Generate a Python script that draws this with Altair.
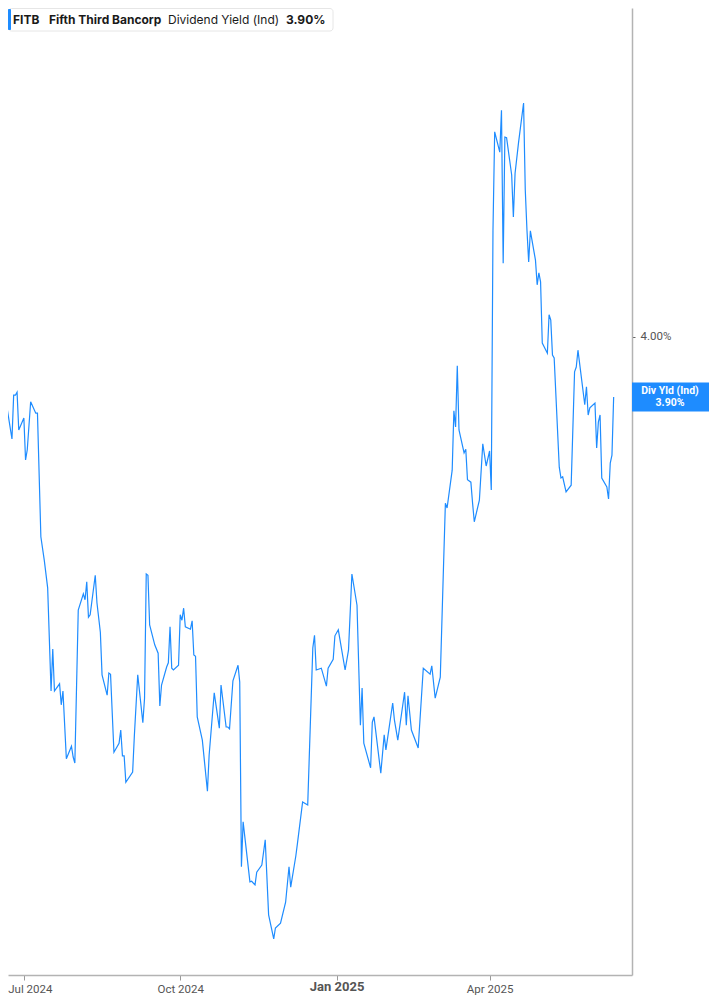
import altair as alt
import pandas as pd

# ---- data ----
dates = [
    "2024-06-17", "2024-06-18", "2024-06-20", "2024-06-24", "2024-06-25", "2024-06-26", "2024-06-27", "2024-06-28",
    "2024-07-01", "2024-07-02", "2024-07-03", "2024-07-05", "2024-07-08", "2024-07-09", "2024-07-11", "2024-07-13",
    "2024-07-15", "2024-07-17", "2024-07-18", "2024-07-19", "2024-07-22", "2024-07-23", "2024-07-24", "2024-07-26",
    "2024-07-29", "2024-07-30", "2024-07-31", "2024-08-02", "2024-08-05", "2024-08-06", "2024-08-07", "2024-08-08",
    "2024-08-09", "2024-08-12", "2024-08-13", "2024-08-15", "2024-08-16", "2024-08-19", "2024-08-20", "2024-08-21",
    "2024-08-23", "2024-08-26", "2024-08-27", "2024-08-28", "2024-08-29", "2024-08-30", "2024-09-03", "2024-09-04",
    "2024-09-06", "2024-09-09", "2024-09-10", "2024-09-11", "2024-09-12", "2024-09-13", "2024-09-16", "2024-09-18",
    "2024-09-19", "2024-09-20", "2024-09-23", "2024-09-24", "2024-09-25", "2024-09-26", "2024-09-27", "2024-09-30",
    "2024-10-01", "2024-10-02", "2024-10-03", "2024-10-04", "2024-10-07", "2024-10-08", "2024-10-09", "2024-10-10",
    "2024-10-11", "2024-10-14", "2024-10-17", "2024-10-18", "2024-10-21", "2024-10-24", "2024-10-25", "2024-10-28",
    "2024-10-29", "2024-10-30", "2024-11-01", "2024-11-04", "2024-11-05", "2024-11-06", "2024-11-07", "2024-11-11",
    "2024-11-12", "2024-11-14", "2024-11-15", "2024-11-18", "2024-11-20", "2024-11-22", "2024-11-25", "2024-11-26",
    "2024-11-29", "2024-12-02", "2024-12-04", "2024-12-05", "2024-12-08", "2024-12-09", "2024-12-12", "2024-12-15",
    "2024-12-18", "2024-12-19", "2024-12-20", "2024-12-23", "2024-12-26", "2024-12-27", "2024-12-30", "2024-12-31",
    "2025-01-02", "2025-01-06", "2025-01-08", "2025-01-10", "2025-01-13", "2025-01-15", "2025-01-16", "2025-01-17",
    "2025-01-21", "2025-01-22", "2025-01-23", "2025-01-27", "2025-01-29", "2025-01-30", "2025-02-03", "2025-02-04",
    "2025-02-06", "2025-02-10", "2025-02-11", "2025-02-12", "2025-02-14", "2025-02-18", "2025-02-21", "2025-02-25",
    "2025-02-26", "2025-02-28", "2025-03-03", "2025-03-05", "2025-03-06", "2025-03-07", "2025-03-10", "2025-03-11",
    "2025-03-12", "2025-03-13", "2025-03-14", "2025-03-17", "2025-03-18", "2025-03-19", "2025-03-21", "2025-03-22",
    "2025-03-23", "2025-03-26", "2025-03-28", "2025-03-30", "2025-04-01", "2025-04-02", "2025-04-03", "2025-04-04",
    "2025-04-07", "2025-04-08", "2025-04-09", "2025-04-10", "2025-04-11", "2025-04-14", "2025-04-15", "2025-04-16",
    "2025-04-18", "2025-04-21", "2025-04-22", "2025-04-23", "2025-04-24", "2025-04-25", "2025-04-28", "2025-04-29",
    "2025-04-30", "2025-05-01", "2025-05-02", "2025-05-05", "2025-05-06", "2025-05-07", "2025-05-08", "2025-05-09",
    "2025-05-12", "2025-05-13", "2025-05-14", "2025-05-16", "2025-05-19", "2025-05-21", "2025-05-22", "2025-05-23",
    "2025-05-27", "2025-05-28", "2025-05-29", "2025-05-30", "2025-06-02", "2025-06-03", "2025-06-04", "2025-06-05",
    "2025-06-06", "2025-06-09", "2025-06-10", "2025-06-11", "2025-06-12", "2025-06-13",
]
yields = [
    3.932, 3.898, 3.902, 3.830, 3.903, 3.903, 3.908, 3.845,
    3.865, 3.795, 3.812, 3.892, 3.873, 3.873, 3.667, 3.628,
    3.582, 3.410, 3.480, 3.410, 3.422, 3.387, 3.410, 3.297,
    3.318, 3.300, 3.290, 3.545, 3.572, 3.562, 3.592, 3.533,
    3.537, 3.603, 3.557, 3.508, 3.437, 3.403, 3.440, 3.438,
    3.308, 3.323, 3.345, 3.302, 3.302, 3.258, 3.275, 3.335,
    3.437, 3.357, 3.398, 3.605, 3.603, 3.520, 3.487, 3.473,
    3.385, 3.420, 3.450, 3.457, 3.517, 3.448, 3.445, 3.453,
    3.537, 3.528, 3.548, 3.517, 3.513, 3.527, 3.470, 3.468,
    3.367, 3.328, 3.243, 3.303, 3.407, 3.348, 3.420, 3.350,
    3.350, 3.347, 3.427, 3.453, 3.425, 3.117, 3.192, 3.092,
    3.093, 3.087, 3.108, 3.120, 3.162, 3.037, 2.997, 3.015,
    3.023, 3.058, 3.117, 3.083, 3.135, 3.157, 3.225, 3.220,
    3.482, 3.503, 3.445, 3.448, 3.418, 3.448, 3.463, 3.502,
    3.512, 3.445, 3.478, 3.605, 3.553, 3.353, 3.415, 3.323,
    3.282, 3.358, 3.367, 3.273, 3.337, 3.312, 3.390, 3.362,
    3.328, 3.408, 3.353, 3.402, 3.345, 3.315, 3.448, 3.438,
    3.452, 3.398, 3.433, 3.628, 3.723, 3.715, 3.778, 3.877,
    3.850, 3.952, 3.845, 3.807, 3.813, 3.762, 3.758, 3.723,
    3.692, 3.728, 3.822, 3.785, 3.810, 3.745, 4.178, 4.342,
    4.308, 4.378, 4.123, 4.333, 4.332, 4.270, 4.200, 4.273,
    4.323, 4.390, 4.245, 4.178, 4.125, 4.177, 4.128, 4.087,
    4.107, 4.092, 3.990, 3.973, 4.037, 4.028, 3.970, 3.965,
    3.783, 3.765, 3.767, 3.742, 3.753, 3.942, 3.950, 3.978,
    3.887, 3.917, 3.870, 3.882, 3.890, 3.815, 3.858, 3.870,
    3.765, 3.750, 3.730, 3.790, 3.803, 3.900,
]
y_ticks = [4.00]
x_tick_months = [(2024, 7), (2024, 10), (2025, 1), (2025, 4)]
ticker = "FITB"
company = "Fifth Third Bancorp"
metric = "Dividend Yield (Ind)"
short_metric = "Div Yld (Ind)"
last_label = "3.90%"

df = pd.DataFrame({"date": dates, "yield": yields})
last_df = df.tail(1).copy()
one = pd.DataFrame({"k": [0]})

BLUE = "#1e8cff"
Y_DOMAIN = [2.9367, 4.5483]
X_DOMAIN = [alt.DateTime(year=2024, month=6, date=21, hours=16),
            alt.DateTime(year=2025, month=6, date=23, hours=19)]

xscale = alt.Scale(domain=X_DOMAIN)
yscale = alt.Scale(domain=Y_DOMAIN)

x_axis = alt.Axis(
    values=[alt.DateTime(year=y, month=m, date=1) for y, m in x_tick_months],
    format="%b %Y", title=None, grid=False,
    domainColor="#b3b3b3", domainWidth=1.5,
    tickColor="#999999", tickSize=5,
    labelColor="#555555", labelFont="Roboto",
    labelFontSize=alt.ExprRef(expr="month(datum.value) == 0 ? 13 : 11.5"),
    labelFontWeight=alt.ExprRef(expr="month(datum.value) == 0 ? 'bold' : 'normal'"),
    labelPadding=alt.ExprRef(expr="month(datum.value) == 0 ? 0 : 3"),
    labelOffset=alt.ExprRef(expr="month(datum.value) == 6 ? 6 : 0"),
)
y_axis = alt.Axis(
    orient="right", values=y_ticks, title=None, grid=False,
    labelExpr="format(datum.value, '.2f') + '%'",
    domainColor="#b3b3b3", domainWidth=1.5,
    tickColor="#666666", tickSize=3,
    labelColor="#555555", labelFont="Roboto", labelFontSize=11.5, labelPadding=5,
)

line = alt.Chart(df).mark_line(color=BLUE, strokeWidth=1.2, clip=True).encode(
    x=alt.X("date:T", scale=xscale, axis=x_axis),
    y=alt.Y("yield:Q", scale=yscale, axis=y_axis),
)

box = alt.Chart(last_df).transform_calculate(
    top="datum['yield'] + 0.0242", bot="datum['yield'] - 0.0242"
).mark_rect(color=BLUE).encode(
    y=alt.Y("top:Q", scale=yscale, axis=y_axis),
    y2="bot:Q",
    x=alt.value(624), x2=alt.value(701),
)
box_t1 = alt.Chart(last_df).mark_text(
    text=short_metric, color="white", font="Roboto", fontWeight="bold", fontSize=10.5, dy=-6
).encode(y=alt.Y("yield:Q", scale=yscale, axis=y_axis), x=alt.value(662))
box_t2 = alt.Chart(last_df).mark_text(
    text=last_label, color="white", font="Roboto", fontWeight="bold", fontSize=10.5, dy=6
).encode(y=alt.Y("yield:Q", scale=yscale, axis=y_axis), x=alt.value(662))

hdr_box = alt.Chart(one).mark_rect(
    fill="white", stroke="#e6e6e6", strokeWidth=1, cornerRadius=3
).encode(x=alt.value(0.5), x2=alt.value(325), y=alt.value(0.5), y2=alt.value(23))
hdr_bar = alt.Chart(one).mark_rect(color=BLUE, cornerRadius=1).encode(
    x=alt.value(0), x2=alt.value(3), y=alt.value(1), y2=alt.value(22))

def hdr_text(txt, xpos, weight):
    return alt.Chart(one).mark_text(
        text=txt, align="left", baseline="middle", font="Inter",
        fontSize=12, fontWeight=weight, color="#1a1a1a"
    ).encode(x=alt.value(xpos), y=alt.value(11.5))

chart = alt.layer(
    line, box, box_t1, box_t2,
    hdr_box, hdr_bar,
    hdr_text(ticker, 5, "bold"),
    hdr_text(company, 41, "bold"),
    hdr_text(metric, 160, "normal"),
    hdr_text(last_label, 278, "bold"),
).properties(
    width=624, height=967,
    autosize=alt.AutoSizeParams(type="none"),
    padding={"left": 0, "top": 0, "right": 77, "bottom": 22},
).configure_view(strokeWidth=0).resolve_scale(y="shared", x="shared")

chart.save("out.html", embed_options={"renderer": "svg", "actions": False})
